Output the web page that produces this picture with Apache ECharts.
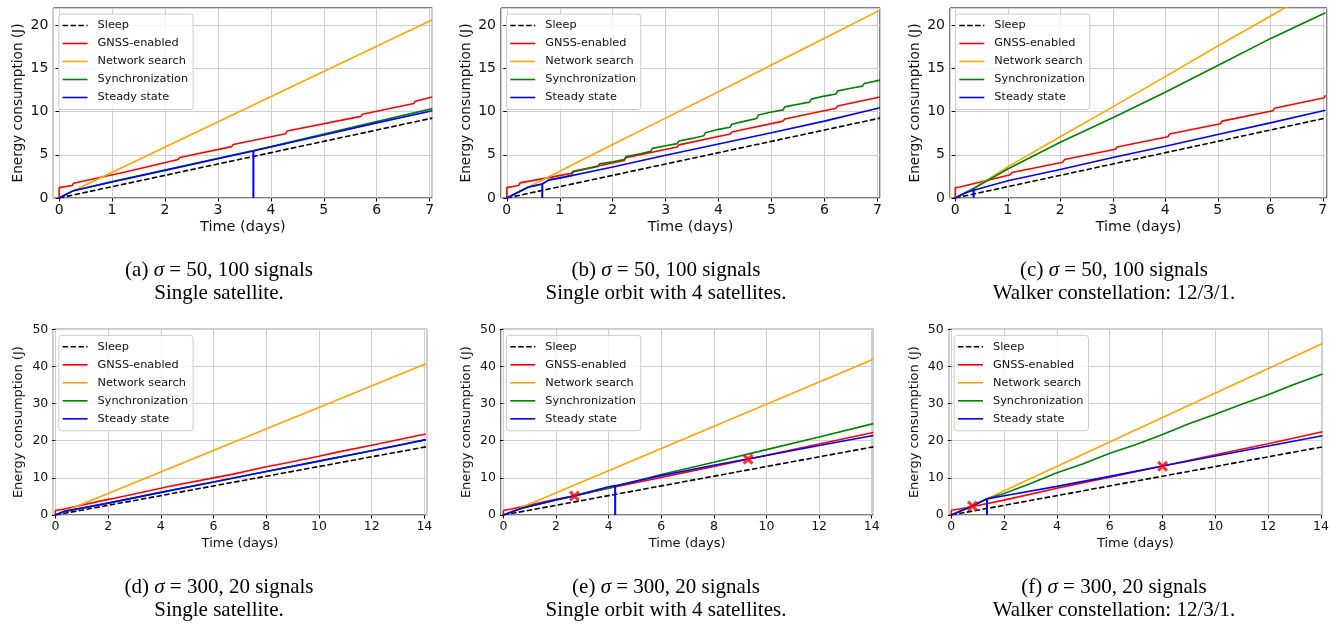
<!DOCTYPE html>
<html>
<head>
<meta charset="utf-8">
<script src="https://cdn.jsdelivr.net/npm/echarts@6/dist/echarts.min.js"></script>
<style>
html,body{margin:0;padding:0;background:#fff;}
#chart{width:1333px;height:626px;}
</style>
</head>
<body>
<div id="chart"></div>
<script>
// ---------------- data (x = time in days, y = energy in J) ----------------
const seriesNames = ['Sleep', 'GNSS-enabled', 'Network search', 'Synchronization', 'Steady state'];

// (a) sigma=50, 100 signals, single satellite
const a_sleep = [[0,0],[7.05,9.25]];
const a_gnss = [[0,0],[0,1.2],[0.25,1.45],[0.27,1.7],[1.25,3.0],[1.28,3.2],[2.25,4.45],[2.28,4.7],[3.26,5.95],[3.29,6.2],[4.28,7.45],[4.31,7.75],[5.7,9.45],[5.73,9.7],[6.7,10.95],[6.73,11.2],[7.05,11.7]];
const a_search = [[0,0],[0.27,0.85],[7.05,20.65]];
const a_sync = [[0,0],[0.27,0.85],[1,1.9],[2,3.25],[3,4.6],[3.67,5.5],[4,5.95],[5,7.4],[6,8.85],[7.05,10.35]];
const a_steady = [[0,0],[0.27,0.85],[1,1.85],[2,3.2],[3,4.55],[3.67,5.45],[4,5.9],[5,7.3],[6,8.7],[7.05,10.1]];
const a_steadyStart = [[3.67,0],[3.67,5.45]];

// (b) sigma=50, 100 signals, single orbit with 4 satellites
const b_sleep = [[0,0],[7.05,9.25]];
const b_gnss = [[0,0],[0,1.2],[0.22,1.45],[0.25,1.75],[1.22,2.85],[1.25,3.1],[2.22,4.35],[2.25,4.65],[3.22,5.9],[3.25,6.15],[4.22,7.4],[4.25,7.65],[5.22,8.9],[5.25,9.15],[6.22,10.4],[6.25,10.65],[7.05,11.7]];
const b_search = [[0,0],[0.4,1.25],[1,3.1],[2,6.2],[3,9.25],[4,12.3],[5,15.4],[6,18.5],[7.05,21.75]];
const b_sync = [[0,0],[0.4,1.25],[0.67,1.6],[0.8,2.1],[1,2.35],[1.22,2.6],[1.25,3.0],[1.5,3.35],[1.72,3.65],[1.75,3.95],[2,4.2],[2.22,4.45],[2.25,4.8],[2.5,5.1],[2.72,5.4],[2.75,5.75],[3,6.05],[3.22,6.3],[3.25,6.6],[3.5,6.9],[3.72,7.2],[3.75,7.55],[4,7.95],[4.22,8.2],[4.25,8.55],[4.5,8.9],[4.72,9.2],[4.75,9.6],[5,9.95],[5.22,10.2],[5.25,10.55],[5.5,10.85],[5.72,11.1],[5.75,11.45],[6,11.8],[6.22,12.05],[6.25,12.4],[6.5,12.7],[6.72,12.95],[6.75,13.25],[7.05,13.65]];
const b_steady = [[0,0],[0.4,1.25],[0.67,1.65],[0.8,2.1],[1,2.3],[2,3.6],[3,4.95],[4,6.25],[5,7.55],[6,8.9],[7.05,10.45]];
const b_steadyStart = [[0.67,0],[0.67,1.65]];

// (c) sigma=50, 100 signals, Walker constellation 12/3/1
const c_sleep = [[0,0],[7.05,9.25]];
const c_gnss = [[0,0],[0,1.2],[0.07,1.25],[0.09,1.45],[1.05,2.7],[1.08,2.95],[2.05,4.15],[2.08,4.45],[3.05,5.65],[3.08,5.9],[4.05,7.1],[4.08,7.4],[5.05,8.6],[5.08,8.9],[6.05,10.1],[6.08,10.4],[7.03,11.6],[7.05,11.9]];
const c_search = [[0,0],[0.35,1.1],[1,3.6],[2,7.1],[3,10.55],[4,14.05],[5,17.6],[6,21.05],[7.05,24.7]];
const c_sync = [[0,0],[0.35,1.1],[1,3.35],[2,6.45],[3,9.3],[4,12.25],[5,15.35],[6,18.45],[7.05,21.45]];
const c_steady = [[0,0],[0.2,0.6],[0.35,0.9],[0.36,1.1],[1,2.0],[2,3.3],[3,4.7],[4,6.0],[5,7.35],[6,8.7],[7.05,10.15]];
const c_steadyStart = [[0.35,0],[0.35,1.1]];

// (d) sigma=300, 20 signals, single satellite
const d_sleep = [[0,0],[14.06,18.35]];
const d_gnss = [[0,0],[0,1.2],[0.25,1.5],[0.28,1.8],[2,4.2],[2.25,4.5],[4,7.2],[4.25,7.6],[6,10.0],[6.75,11.0],[8,13.0],[8.75,14.0],[10,15.8],[10.75,17.0],[12,18.8],[13.5,21.0],[14.06,21.8]];
const d_search = [[0,0],[0.3,0.9],[14.06,40.7]];
const d_sync = [[0,0],[0.3,0.9],[2,3.2],[4,6.1],[6,8.9],[8,11.7],[10,14.5],[12,17.3],[14.06,20.25]];
const d_steady = [[0,0],[0.3,0.9],[2,3.2],[4,6.1],[6,8.9],[8,11.7],[10,14.5],[12,17.3],[14.06,20.3]];

// (e) sigma=300, 20 signals, single orbit with 4 satellites
const e_sleep = [[0,0],[14.06,18.35]];
const e_gnss = [[0,0],[0,1.2],[0.3,1.6],[0.33,1.9],[2,4.2],[2.7,5.1],[4,7.2],[6,10.1],[8,13.1],[9.3,15.0],[10,16.1],[12,19.1],[14.06,22.2]];
const e_search = [[0,0],[0.7,2.1],[14.06,41.95]];
const e_sync = [[0,0],[0.7,1.8],[2,4.0],[4,7.3],[4.25,7.7],[6,10.9],[8,14.2],[10,17.6],[12,21.0],[14.06,24.6]];
const e_steady = [[0,0],[0.7,1.8],[2,4.1],[2.7,5.2],[4,7.6],[4.25,7.9],[6,10.6],[8,13.4],[10,16.0],[12,18.7],[14.06,21.4]];
const e_steadyStart = [[4.25,0],[4.25,7.9]];
const e_points = [[2.7,5.1],[9.3,15.0]];

// (f) sigma=300, 20 signals, Walker constellation 12/3/1
const f_sleep = [[0,0],[14.06,18.35]];
const f_gnss = [[0,0],[0,1.3],[0.3,1.6],[0.8,2.3],[2,4.0],[4,7.2],[6,10.2],[8,13.2],[10,16.2],[12,19.2],[14.06,22.4]];
const f_search = [[0,0],[1.35,4.4],[14.06,46.15]];
const f_sync = [[0,0],[0.8,2.5],[1.35,4.4],[2,5.8],[3,8.5],[4,11.4],[5,13.8],[6,16.6],[7,19.0],[8,21.7],[9,24.6],[10,27.1],[11,29.8],[12,32.4],[13,35.2],[14.06,37.95]];
const f_steady = [[0,0],[0.8,2.4],[1.35,4.35],[2,5.2],[4,7.7],[6,10.4],[8,13.2],[10,15.9],[12,18.6],[14.06,21.35]];
const f_steadyStart = [[1.35,0],[1.35,4.35]];
const f_points = [[0.8,2.4],[8.0,13.1]];

// captions
const captionLine1 = [
  ['(a) ', '50, 100 signals'], ['(b) ', '50, 100 signals'], ['(c) ', '50, 100 signals'],
  ['(d) ', '300, 20 signals'], ['(e) ', '300, 20 signals'], ['(f) ', '300, 20 signals']
];
const captionLine2 = ['Single satellite.', 'Single orbit with 4 satellites.', 'Walker constellation: 12/3/1.',
  'Single satellite.', 'Single orbit with 4 satellites.', 'Walker constellation: 12/3/1.'];

// ---------------- layout ----------------
const panels = [
  {grid:{left:53.3, top:8, width:379, height:190}, xMin:-0.11, xMax:7.05, xSplit:7, yMax:22, yInt:5,
   lines:[a_sleep,a_gnss,a_search,a_sync,a_steady], start:a_steadyStart, pts:null, cx:219, cy:270},
  {grid:{left:501, top:8, width:379, height:190}, xMin:-0.11, xMax:7.05, xSplit:7, yMax:22, yInt:5,
   lines:[b_sleep,b_gnss,b_search,b_sync,b_steady], start:b_steadyStart, pts:null, cx:666, cy:270},
  {grid:{left:950, top:8, width:377, height:190}, xMin:-0.1, xMax:7.08, xSplit:7, yMax:22, yInt:5,
   lines:[c_sleep,c_gnss,c_search,c_sync,c_steady], start:c_steadyStart, pts:null, cx:1114, cy:270},
  {grid:{left:53.3, top:329.3, width:373.4, height:185.7}, xMin:-0.08, xMax:14.09, xSplit:7, yMax:50, yInt:10,
   lines:[d_sleep,d_gnss,d_search,d_sync,d_steady], start:null, pts:null, cx:219, cy:587},
  {grid:{left:501, top:329.3, width:372.3, height:185.7}, xMin:-0.09, xMax:14.06, xSplit:7, yMax:50, yInt:10,
   lines:[e_sleep,e_gnss,e_search,e_sync,e_steady], start:e_steadyStart, pts:e_points, cx:666, cy:587},
  {grid:{left:948.7, top:329.3, width:373.3, height:185.7}, xMin:-0.1, xMax:14.04, xSplit:7, yMax:50, yInt:10,
   lines:[f_sleep,f_gnss,f_search,f_sync,f_steady], start:f_steadyStart, pts:f_points, cx:1114, cy:587}
];

const colors = ['#000000', '#ff0000', '#ffa500', '#008000', '#0000ff'];
const FONT = 'DejaVu Sans';
const SERIF = 'Liberation Serif';
const xShape = 'path://M0,2 L2,0 L5,3 L8,0 L10,2 L7,5 L10,8 L8,10 L5,7 L2,10 L0,8 L3,5 Z';

const grids = [], xAxes = [], yAxes = [], series = [], legends = [], graphics = [];

panels.forEach((p, i) => {
  const top = i < 3;
  grids.push(Object.assign({show:true, borderColor:'#000', borderWidth:1, backgroundColor:'transparent', containLabel:false}, p.grid));
  xAxes.push({
    gridIndex:i, type:'value', min:p.xMin, max:p.xMax, splitNumber:p.xSplit,
    name:'Time (days)', nameLocation:'middle', nameGap:22,
    nameTextStyle:{fontFamily:FONT, fontSize: top ? 14.5 : 13, color:'#111'},
    axisLine:{show:false},
    axisTick:{show:true, length:3.5, lineStyle:{color:'#000', width:1}},
    axisLabel:{fontFamily:FONT, fontSize: top ? 14 : 12.5, color:'#111', margin:5, showMinLabel:false, showMaxLabel:false},
    splitLine:{show:true, lineStyle:{color:'#cfcfcf', width:1}}
  });
  yAxes.push({
    gridIndex:i, type:'value', min:0, max:p.yMax, interval:p.yInt,
    name:'Energy consumption (J)', nameLocation:'middle', nameGap:28, nameRotate:90,
    nameTextStyle:{fontFamily:FONT, fontSize: top ? 13.6 : 13, color:'#111'},
    axisLine:{show:false},
    axisTick:{show:true, length:3.5, lineStyle:{color:'#000', width:1}},
    axisLabel:{fontFamily:FONT, fontSize: top ? 14 : 12.5, color:'#111', margin:5, showMaxLabel: !top},
    splitLine:{show:true, lineStyle:{color:'#cfcfcf', width:1}}
  });
  p.lines.forEach((d, k) => {
    series.push({
      type:'line', name:seriesNames[k], xAxisIndex:i, yAxisIndex:i, data:d,
      symbol:'none', showSymbol:false, animation:false, clip:true,
      lineStyle:{color:colors[k], width:1.6, type: k === 0 ? [5.5, 2.4] : 'solid'},
      itemStyle:{color:colors[k]}
    });
  });
  if (p.start) {
    series.push({
      type:'line', name:'steady-start', xAxisIndex:i, yAxisIndex:i, data:p.start,
      symbol:'none', animation:false, lineStyle:{color:'#0000ff', width:2}, itemStyle:{color:'#0000ff'}
    });
  }
  if (p.pts) {
    series.push({
      type:'scatter', name:'switch', xAxisIndex:i, yAxisIndex:i, data:p.pts,
      symbol:xShape, symbolSize:11, animation:false, itemStyle:{color:'#ff0000'}, z:5
    });
  }
  legends.push({
    data:seriesNames, orient:'vertical',
    left:p.grid.left + 5.5, top:p.grid.top + 6,
    itemWidth:25, itemHeight:14, itemGap:4,
    padding:[4.5, 5, 5, 3],
    backgroundColor:'rgba(255,255,255,0.8)', borderColor:'#cccccc', borderWidth:1, borderRadius:3,
    itemStyle:{opacity:0},
    lineStyle:{width:1.6},
    textStyle:{fontFamily:FONT, fontSize:11.3, color:'#111', padding:[0,0,0,5], lineHeight:14},
    selectedMode:false
  });
  const c1 = captionLine1[i];
  graphics.push({
    type:'text', x:p.cx, y:p.cy,
    style:{
      text:'{n|' + c1[0] + '}{i|σ}{n| = ' + c1[1] + '}',
      rich:{
        n:{fontFamily:SERIF, fontSize:21, fill:'#000'},
        i:{fontFamily:SERIF, fontSize:21, fontStyle:'italic', fill:'#000'}
      },
      align:'center', verticalAlign:'middle', fill:'#000'
    }
  });
  graphics.push({
    type:'text', x:p.cx, y:p.cy + 23,
    style:{text:captionLine2[i], fontFamily:SERIF, fontSize:21, fill:'#000', align:'center', verticalAlign:'middle'}
  });
});

const chart = echarts.init(document.getElementById('chart'), null, {renderer:'canvas'});
chart.setOption({
  animation:false,
  backgroundColor:'#ffffff',
  grid:grids, xAxis:xAxes, yAxis:yAxes, series:series, legend:legends, graphic:graphics
});
</script>
</body>
</html>
